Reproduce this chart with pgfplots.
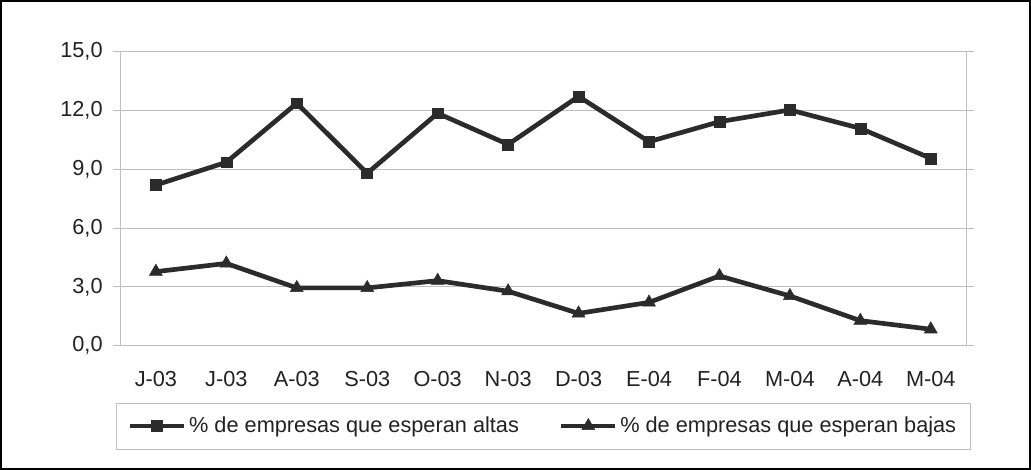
\documentclass[border=0pt]{standalone}
\usepackage{fontspec}
\setmainfont{Liberation Sans}
\usepackage{pgfplots}
\pgfplotsset{compat=1.18}
\definecolor{ln}{HTML}{2B2B2B}
\definecolor{gr}{HTML}{BFBFBF}
\definecolor{tx}{HTML}{222222}
\begin{document}
\fontsize{16}{19}\selectfont
\begin{tikzpicture}
\useasboundingbox (0,0) rectangle (773.25pt,352.5pt);
\draw[black,line width=1.6pt] (0.9pt,0.9pt) rectangle (772.35pt,351.6pt);
\draw[gr,line width=0.75pt] (87pt,15.5pt) rectangle (727.5pt,50pt);
\begin{axis}[
  at={(90.5pt,93.2pt)}, anchor=south west,
  scale only axis, width=634pt, height=220.5pt,
  xmin=-0.5, xmax=11.5, ymin=0, ymax=15,
  xtick={0,...,11},
  xticklabels={J-03,J-03,A-03,S-03,O-03,N-03,D-03,E-04,F-04,M-04,A-04,M-04},
  ytick={0,3,6,9,12,15},
  yticklabels={{0,0},{3,0},{6,0},{9,0},{12,0},{15,0}},
  ymajorgrids, grid style={gr,line width=0.75pt},
  axis line style={gr,line width=0.75pt},
  tick align=outside, major tick length=6pt,
  xtick style={draw=none}, ytick style={gr,line width=0.75pt},
  ticklabel style={font=\fontsize{16.3}{19}\selectfont, text=tx},
  yticklabel style={xshift=-2pt},
  xticklabel style={yshift=-8pt},
  legend style={draw=none, fill=none, at={(0.5,-0.273)}, anchor=center,
    font=\fontsize{16.3}{19}\selectfont, text=tx,
    /tikz/every even column/.append style={column sep=28pt}},
  legend columns=2,
  legend image code/.code={\draw[mark repeat=2,mark phase=2,#1] plot coordinates {(0pt,0pt) (20.25pt,0pt) (40.5pt,0pt)};},
]
\addplot[ln, line width=3.5pt, mark=square*, mark size=4.1pt, mark options={line width=0.4pt, fill=ln}]
  coordinates {(0,8.20) (1,9.36) (2,12.37) (3,8.80) (4,11.86) (5,10.27) (6,12.72) (7,10.41) (8,11.43) (9,12.03) (10,11.09) (11,9.56)};
\addlegendentry{\% de empresas que esperan altas}
\addplot[ln, line width=3.5pt, mark=triangle*, mark size=5.6pt, mark options={line width=0.4pt, fill=ln}]
  coordinates {(0,3.78) (1,4.20) (2,2.95) (3,2.95) (4,3.32) (5,2.78) (6,1.65) (7,2.21) (8,3.56) (9,2.54) (10,1.28) (11,0.84)};
\addlegendentry{\% de empresas que esperan bajas}
\end{axis}
\end{tikzpicture}
\end{document}
